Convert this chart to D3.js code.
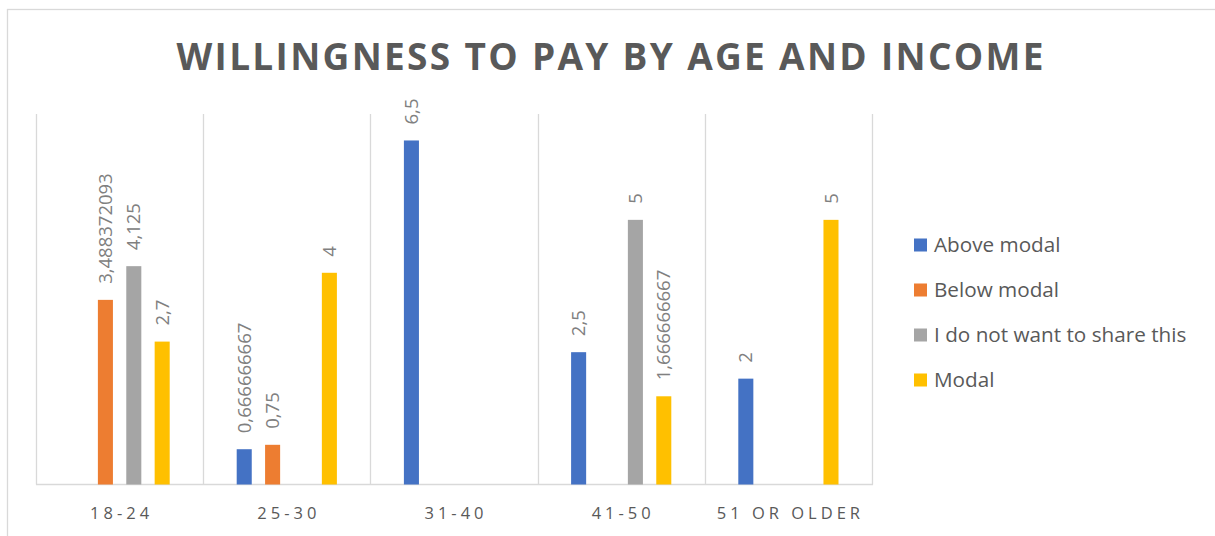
<!DOCTYPE html>
<html>
<head>
<meta charset="utf-8">
<script src="https://cdn.jsdelivr.net/npm/d3@7"></script>
<style>
  html, body { margin: 0; padding: 0; background: #fff; }
  svg { display: block; font-family: "Open Sans", sans-serif; }
</style>
</head>
<body>
<svg id="chart" width="1215" height="536"></svg>
<script>
// Age groups along the x axis
const categories = ["18-24", "25-30", "31-40", "41-50", "51 OR OLDER"];

// Income series (null = no bar in that age group)
const seriesNames = ["Above modal", "Below modal", "I do not want to share this", "Modal"];
const aboveModal = [null, 0.666666667, 6.5, 2.5, 2];
const belowModal = [3.488372093, 0.75, null, null, null];
const notShared  = [4.125, null, null, 5, null];
const modal      = [2.7, 4, null, 1.666666667, 5];

const seriesValues = [aboveModal, belowModal, notShared, modal];
const colors = ["#4472C4", "#ED7D31", "#A5A5A5", "#FFC000"];

const title = "WILLINGNESS TO PAY BY AGE AND INCOME";

const svg = d3.select("#chart");
const W = 1215, H = 536;
const plot = { left: 36, right: 872, top: 114, bottom: 484.5 };

// Outer chart frame
svg.append("rect")
  .attr("x", 7.5).attr("y", 9.5)
  .attr("width", W).attr("height", H)
  .attr("fill", "#fff")
  .attr("stroke", "#D9D9D9").attr("stroke-width", 1.3);

// Title
svg.append("text")
  .attr("x", 610).attr("y", 70)
  .attr("text-anchor", "middle")
  .attr("fill", "#595959")
  .attr("font-weight", "bold")
  .attr("font-size", 37)
  .attr("textLength", 867)
  .attr("lengthAdjust", "spacing")
  .text(title);

// Scales
const x0 = d3.scaleBand().domain(categories).range([plot.left, plot.right]).padding(0);
const x1 = d3.scaleBand().domain(seriesNames)
  .range([33.5, x0.bandwidth() - 33.5])
  .paddingInner(0.47).paddingOuter(0);
const y = d3.scaleLinear().domain([0, 7]).range([plot.bottom, plot.top]);

// Vertical category separators
const edges = categories.map(c => x0(c)).concat([plot.right]);
svg.append("g").selectAll("line").data(edges).join("line")
  .attr("x1", d => Math.round(d) + 0.5).attr("x2", d => Math.round(d) + 0.5)
  .attr("y1", plot.top).attr("y2", plot.bottom)
  .attr("stroke", "#D9D9D9").attr("stroke-width", 1.3);

// Baseline
svg.append("line")
  .attr("x1", plot.left).attr("x2", plot.right + 1)
  .attr("y1", plot.bottom).attr("y2", plot.bottom)
  .attr("stroke", "#D9D9D9").attr("stroke-width", 1.3);

// Flatten series into bar records
const bars = [];
seriesNames.forEach((s, si) => {
  categories.forEach((c, ci) => {
    const v = seriesValues[si][ci];
    if (v !== null) bars.push({ series: s, si, cat: c, value: v });
  });
});

const fmt = v => String(Math.round(v * 1e9) / 1e9).replace(".", ",");

svg.append("g").selectAll("rect").data(bars).join("rect")
  .attr("x", d => x0(d.cat) + x1(d.series))
  .attr("width", x1.bandwidth())
  .attr("y", d => y(d.value))
  .attr("height", d => plot.bottom - y(d.value))
  .attr("fill", d => colors[d.si]);

// Rotated value labels above each bar
svg.append("g").selectAll("text").data(bars).join("text")
  .attr("transform", d => {
    const cx = x0(d.cat) + x1(d.series) + x1.bandwidth() / 2;
    const cy = y(d.value) - 16;
    return `translate(${cx},${cy}) rotate(-90)`;
  })
  .attr("dy", "0.36em")
  .attr("fill", "#808080")
  .attr("font-size", 18.5)
  .text(d => fmt(d.value));

// Category labels
svg.append("g").selectAll("text").data(categories).join("text")
  .attr("x", d => x0(d) + x0.bandwidth() / 2 + 2)
  .attr("y", 519)
  .attr("text-anchor", "middle")
  .attr("fill", "#595959")
  .attr("font-size", 16.5)
  .attr("letter-spacing", 4)
  .text(d => d);

// Legend
const legendY = [245, 290, 335, 380];
const legend = svg.append("g").selectAll("g").data(seriesNames).join("g")
  .attr("transform", (d, i) => `translate(914,${legendY[i]})`);
legend.append("rect")
  .attr("x", 0).attr("y", -6.5).attr("width", 13).attr("height", 13)
  .attr("fill", (d, i) => colors[i]);
legend.append("text")
  .attr("x", 20).attr("y", 0).attr("dy", "0.36em")
  .attr("fill", "#595959")
  .attr("font-size", 20.7)
  .text(d => d);
</script>
</body>
</html>
